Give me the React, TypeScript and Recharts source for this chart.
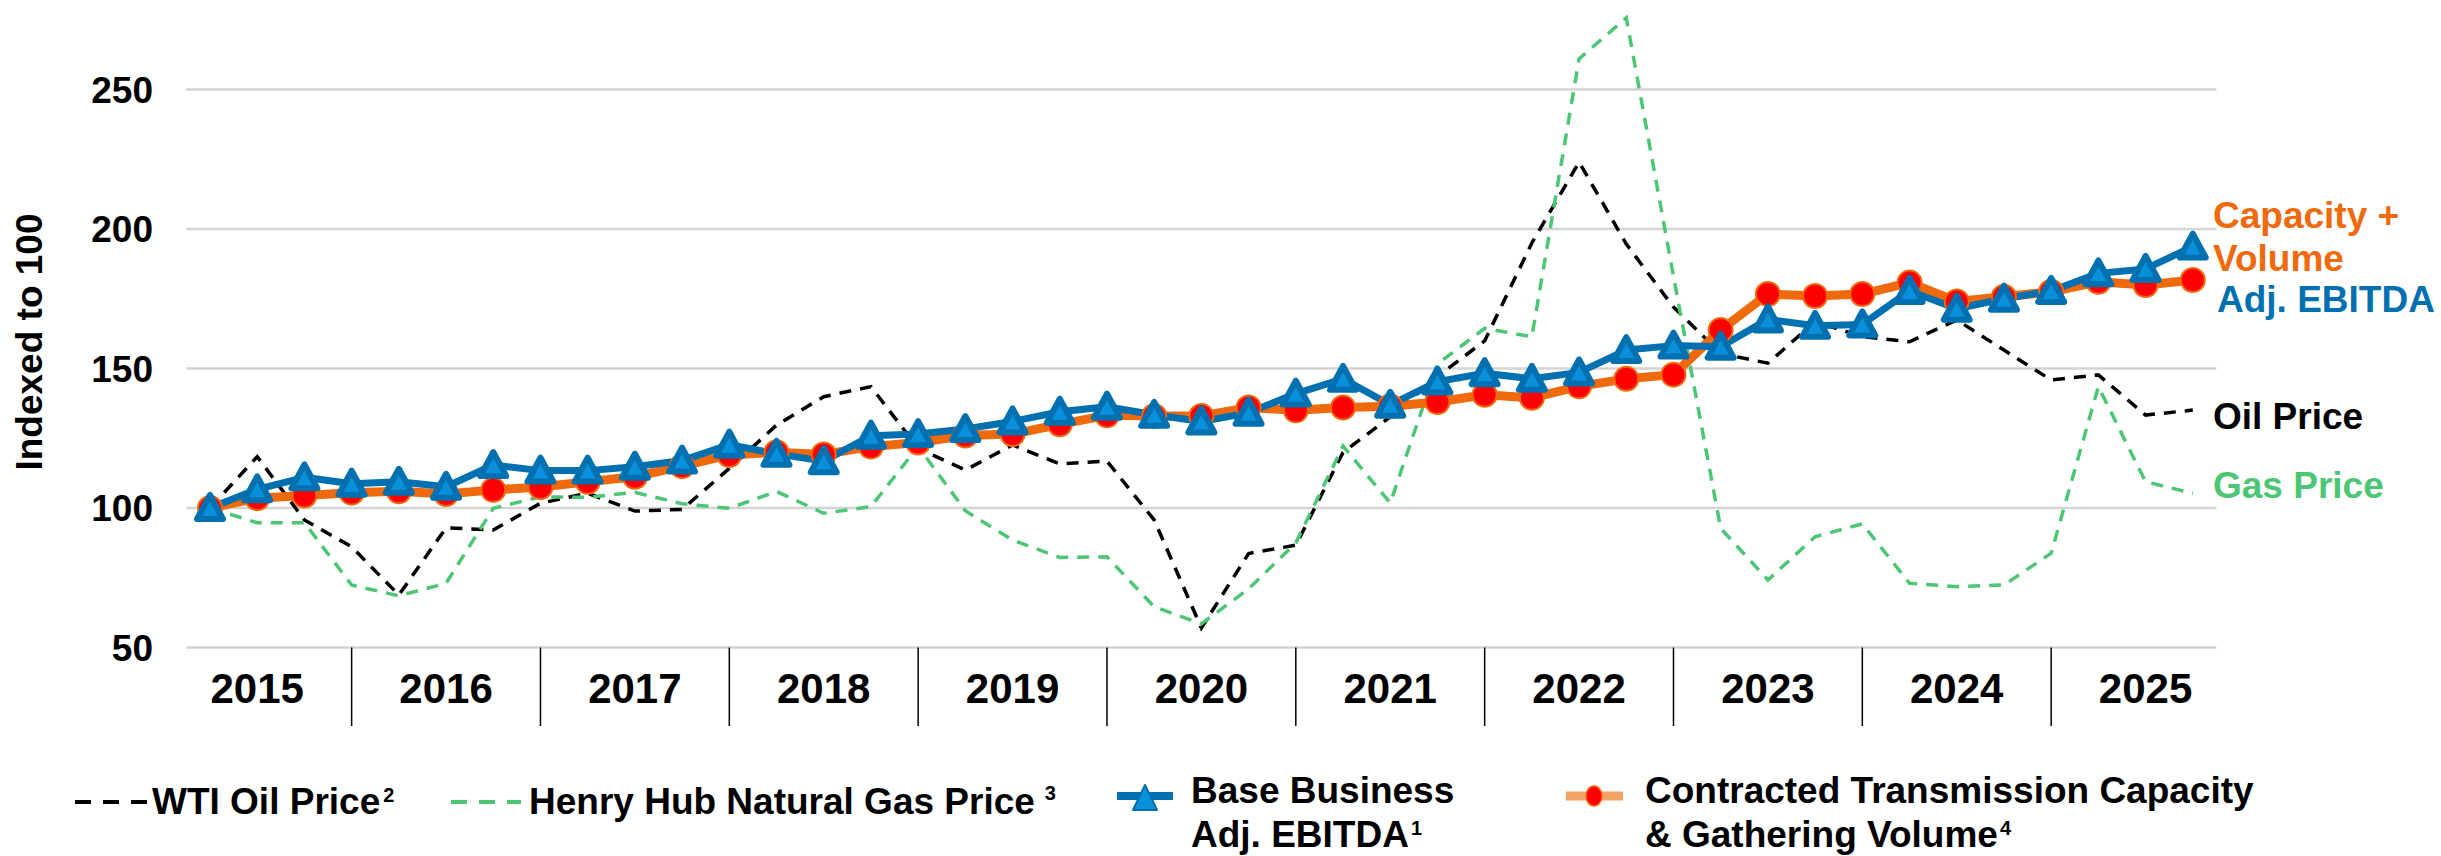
import React from 'react';
import { LineChart, Line, XAxis, YAxis } from 'recharts';

// ---- data (quarterly, 2015 Q1 .. 2025 Q3, indexed to 100) ----
const quarters: string[] = [
  '2015Q1','2015Q2','2015Q3','2015Q4',
  '2016Q1','2016Q2','2016Q3','2016Q4',
  '2017Q1','2017Q2','2017Q3','2017Q4',
  '2018Q1','2018Q2','2018Q3','2018Q4',
  '2019Q1','2019Q2','2019Q3','2019Q4',
  '2020Q1','2020Q2','2020Q3','2020Q4',
  '2021Q1','2021Q2','2021Q3','2021Q4',
  '2022Q1','2022Q2','2022Q3','2022Q4',
  '2023Q1','2023Q2','2023Q3','2023Q4',
  '2024Q1','2024Q2','2024Q3','2024Q4',
  '2025Q1','2025Q2','2025Q3',
];

const ebitda: number[] = [
  100, 106.7, 111, 108.7, 109.4, 107.6, 115.4, 113.4, 113.4, 114.8, 117,
  122.7, 119.4, 116.8, 125.9, 126.5, 128.3, 131, 134.5, 136.3, 133.4, 131,
  134.1, 141, 146.3, 137, 145.3, 148.3, 146.3, 148.6, 156.6, 158.2,
  157.8, 167.6, 165.3, 165.8, 177.8, 171.4, 175, 177.8, 184.1, 185.7, 193.7,
];

const capacity: number[] = [
  100, 103.5, 104.5, 105.5, 106, 105, 106.5, 107.5, 109.4, 111.2, 115,
  119, 120, 119.2, 122, 123.5, 126, 126.5, 130, 133.2, 133, 133,
  136, 135, 136, 136.5, 138, 140.6, 139.5, 143.6, 146.3, 147.8,
  163.8, 176.7, 176, 176.7, 180.8, 174, 175.7, 177.5, 181.1, 179.9, 181.7,
];

const oil: number[] = [
  100, 118.4, 95.7, 86.1, 68.8, 92.9, 92.1, 101.7, 105.3, 98.9, 99.5,
  114.2, 129.7, 139.9, 143.5, 121.4, 113.6, 122.6, 115.8, 116.8, 95.7, 57,
  83.7, 86.7, 119.9, 132.7, 147.1, 159.9, 195, 224, 194.6, 172,
  155.4, 151.9, 166.8, 161.4, 159.6, 167.4, 156.6, 145.9, 147.7, 133.3, 135.1,
];

const gas: number[] = [
  100, 94.7, 94.7, 72.4, 68.5, 73, 99.9, 104, 103.8, 105.6, 101.5,
  99.9, 105.9, 98.1, 100.5, 122, 99, 88.5, 82.3, 82.5, 64.6, 58.5,
  71, 87.5, 122.2, 101.8, 151.6, 164.4, 161.4, 261, 275.7, 183,
  92.7, 74.2, 89.7, 94.3, 73, 71.8, 72.4, 83.8, 143.5, 109.4, 105.3,
];

const yearLabels: string[] = ['2015','2016','2017','2018','2019','2020','2021','2022','2023','2024','2025'];
const yTicks: number[] = [50, 100, 150, 200, 250];

// ---- styling constants ----
const W = 2441;
const H = 856;
const FONT = '"Liberation Sans", Arial, Helvetica, sans-serif';
const BLUE = '#0070B0';
const BLUE_FILL = '#0A8FDB';
const ORANGE = '#EF6A0C';
const RED = '#FF0000';
const GREEN = '#4CC675';
const GRID = '#D4D4D4';

const PLOT_LEFT = 186.4;
const PLOT_RIGHT = 2216.4;
const PLOT_TOP = 5.8;
const PLOT_BOTTOM = 647.5;
const MARGIN = { top: PLOT_TOP, right: W - PLOT_RIGHT, bottom: H - PLOT_BOTTOM - 1, left: PLOT_LEFT - 1 };
const X_DOMAIN: [number, number] = [-0.5, 42.5];
const Y_DOMAIN: [number, number] = [50, 280];

const rows = quarters.map((q, i) => ({
  i,
  q,
  ebitda: ebitda[i],
  capacity: capacity[i],
  oil: oil[i],
  gas: gas[i],
}));

// label positions (year label centred between separators)
const yearCenters = yearLabels.map((_, k) => 4 * k + 1);
const separators = yearLabels.slice(0, -1).map((_, k) => 4 * k + 3);
const xTicks = [...yearCenters, ...separators].sort((a, b) => a - b);

// gridline rows for the background layer, from the same axis range as the chart
const gridY = (t: number) =>
  PLOT_BOTTOM - ((t - Y_DOMAIN[0]) / (Y_DOMAIN[1] - Y_DOMAIN[0])) * (PLOT_BOTTOM - PLOT_TOP);

const TriangleDot = (props: any) => {
  const { cx, cy, index } = props;
  if (cx == null || cy == null) return <g key={`tri-${index}`} />;
  const pts = `${cx},${cy - 13} ${cx - 13},${cy + 11} ${cx + 13},${cy + 11}`;
  return (
    <polygon
      key={`tri-${index}`}
      points={pts}
      fill={BLUE_FILL}
      stroke={BLUE}
      strokeWidth={6}
      strokeLinejoin="round"
    />
  );
};

const YTick = (props: any) => {
  const { y, payload } = props;
  return (
    <text x={153} y={y + 13} textAnchor="end" fontFamily={FONT} fontWeight="bold" fontSize={37} fill="#000">
      {payload.value}
    </text>
  );
};

const XTick = (props: any) => {
  const { x, payload } = props;
  const v = payload.value as number;
  const k = yearCenters.indexOf(v);
  if (k >= 0) {
    return (
      <text x={x} y={703} textAnchor="middle" fontFamily={FONT} fontWeight="bold" fontSize={42} fill="#000">
        {yearLabels[k]}
      </text>
    );
  }
  return <line x1={x} x2={x} y1={PLOT_BOTTOM} y2={726} stroke="#000" strokeWidth={1.5} />;
};

export default function App() {
  return (
    <div style={{ position: 'fixed', left: 0, top: 0, width: W, height: H, background: '#fff', overflow: 'hidden' }}>
      {/* background gridlines */}
      <svg width={W} height={H} style={{ position: 'absolute', left: 0, top: 0 }}>
        {yTicks.map((t) => (
          <rect
            key={`g-${t}`}
            x={PLOT_LEFT}
            y={gridY(t) - 1.25}
            width={PLOT_RIGHT - PLOT_LEFT}
            height={2.5}
            fill={GRID}
          />
        ))}
      </svg>
      <div style={{ position: 'absolute', left: 0, top: 0 }}>
        <LineChart width={W} height={H} data={rows} margin={MARGIN}>
          <YAxis
            type="number"
            domain={Y_DOMAIN}
            ticks={yTicks}
            interval={0}
            width={1}
            axisLine={false}
            tickLine={false}
            tick={YTick}
          />
          <XAxis
            dataKey="i"
            type="number"
            domain={X_DOMAIN}
            ticks={xTicks}
            interval={0}
            height={1}
            axisLine={false}
            tickLine={false}
            tick={XTick}
          />
          <Line
            dataKey="oil"
            type="linear"
            stroke="#000"
            strokeWidth={3.5}
            strokeDasharray="12 9"
            dot={false}
            activeDot={false}
            isAnimationActive={false}
          />
          <Line
            dataKey="gas"
            type="linear"
            stroke={GREEN}
            strokeWidth={3.5}
            strokeDasharray="12 9"
            dot={false}
            activeDot={false}
            isAnimationActive={false}
          />
          <Line
            dataKey="capacity"
            type="linear"
            stroke={ORANGE}
            strokeWidth={9}
            strokeLinejoin="round"
            dot={{ r: 12, fill: RED, stroke: ORANGE, strokeWidth: 2 }}
            activeDot={false}
            isAnimationActive={false}
          />
          <Line
            dataKey="ebitda"
            type="linear"
            stroke={BLUE}
            strokeWidth={7}
            strokeLinejoin="round"
            dot={TriangleDot}
            activeDot={false}
            isAnimationActive={false}
          />
        </LineChart>
      </div>
      <svg
        width={W}
        height={H}
        style={{ position: 'absolute', left: 0, top: 0, pointerEvents: 'none' }}
      >
        <g fontFamily={FONT} fontWeight="bold" fontSize={37}>
          <text transform="translate(42,342) rotate(-90)" textAnchor="middle" fill="#000">
            Indexed to 100
          </text>
          <text x={2213} y={228} fill={ORANGE}>Capacity +</text>
          <text x={2213} y={271} fill={ORANGE}>Volume</text>
          <text x={2217} y={312} fill={BLUE}>Adj. EBITDA</text>
          <text x={2213} y={429} fill="#000">Oil Price</text>
          <text x={2213} y={498} fill={GREEN}>Gas Price</text>
        </g>
        {/* legend */}
        <g fontFamily={FONT} fontWeight="bold" fill="#000">
          <line x1={75} x2={148} y1={802} y2={802} stroke="#000" strokeWidth={4} strokeDasharray="16 12" />
          <text x={152} y={814} fontSize={37}>
            WTI Oil Price<tspan fontSize={20} dx={3} dy={-12}>2</tspan>
          </text>
          <line x1={451} x2={521} y1={802} y2={802} stroke={GREEN} strokeWidth={4} strokeDasharray="16 12" />
          <text x={529} y={814} fontSize={37}>
            Henry Hub Natural Gas Price<tspan fontSize={20} dx={10} dy={-14}>3</tspan>
          </text>
          <line x1={1117} x2={1173} y1={796} y2={796} stroke={BLUE} strokeWidth={8} />
          <polygon points="1145,785 1133,810 1157,810" fill={BLUE_FILL} stroke={BLUE} strokeWidth={2} strokeLinejoin="round" />
          <text x={1191} y={803} fontSize={37}>Base Business</text>
          <text x={1191} y={847} fontSize={37}>
            Adj. EBITDA<tspan fontSize={20} dx={2} dy={-12}>1</tspan>
          </text>
          <line x1={1566} x2={1623} y1={796} y2={796} stroke="#F4A165" strokeWidth={9} />
          <ellipse cx={1594} cy={796} rx={8} ry={10} fill={RED} stroke={ORANGE} strokeWidth={1.5} />
          <text x={1645} y={803} fontSize={37}>Contracted Transmission Capacity</text>
          <text x={1645} y={847} fontSize={37}>
            &amp; Gathering Volume<tspan fontSize={20} dx={2} dy={-12}>4</tspan>
          </text>
        </g>
      </svg>
    </div>
  );
}
